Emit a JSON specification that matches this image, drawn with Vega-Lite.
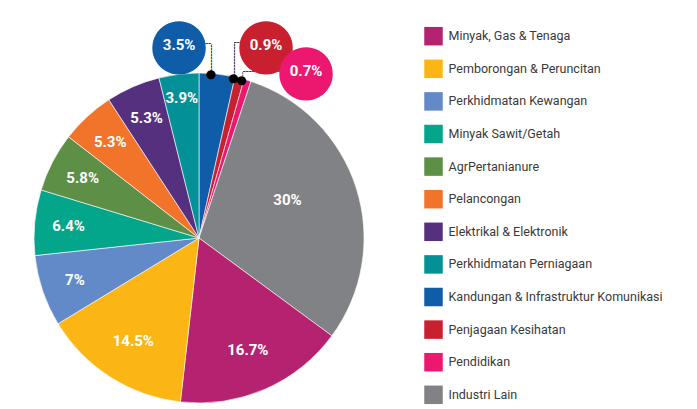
{
  "$schema": "https://vega.github.io/schema/vega-lite/v6.json",
  "width": 398,
  "height": 342,
  "autosize": {"type": "none"},
  "padding": {"left": 0, "top": 67, "right": 299, "bottom": 0},
  "background": "white",
  "config": {"view": {"stroke": null}, "text": {"font": "Roboto"}},
  "data": {
    "values": [
      {"cat": "Kandungan & Infrastruktur Komunikasi", "pct": 3.5, "label": "3.5%", "ord": 1},
      {"cat": "Penjagaan Kesihatan", "pct": 0.9, "label": "0.9%", "ord": 2},
      {"cat": "Pendidikan", "pct": 0.7, "label": "0.7%", "ord": 3},
      {"cat": "Industri Lain", "pct": 30, "label": "30%", "ord": 4},
      {"cat": "Minyak, Gas & Tenaga", "pct": 16.7, "label": "16.7%", "ord": 5},
      {"cat": "Pemborongan & Peruncitan", "pct": 14.5, "label": "14.5%", "ord": 6},
      {"cat": "Perkhidmatan Kewangan", "pct": 7, "label": "7%", "ord": 7},
      {"cat": "Minyak Sawit/Getah", "pct": 6.4, "label": "6.4%", "ord": 8},
      {"cat": "AgrPertanianure", "pct": 5.8, "label": "5.8%", "ord": 9},
      {"cat": "Pelancongan", "pct": 5.3, "label": "5.3%", "ord": 10},
      {"cat": "Elektrikal & Elektronik", "pct": 5.3, "label": "5.3%", "ord": 11},
      {"cat": "Perkhidmatan Perniagaan", "pct": 3.9, "label": "3.9%", "ord": 12}
    ]
  },
  "encoding": {
    "theta": {"field": "pct", "type": "quantitative", "stack": true},
    "order": {"field": "ord", "type": "quantitative", "sort": "ascending"}
  },
  "layer": [
    {
      "mark": {"type": "arc", "outerRadius": 165, "stroke": "white", "strokeWidth": 0.6},
      "encoding": {
        "color": {
          "field": "cat",
          "type": "nominal",
          "scale": {
            "domain": ["Minyak, Gas & Tenaga", "Pemborongan & Peruncitan", "Perkhidmatan Kewangan", "Minyak Sawit/Getah", "AgrPertanianure", "Pelancongan", "Elektrikal & Elektronik", "Perkhidmatan Perniagaan", "Kandungan & Infrastruktur Komunikasi", "Penjagaan Kesihatan", "Pendidikan", "Industri Lain"],
            "range": ["#B5226F", "#FBB616", "#628AC8", "#03A68A", "#5E8F46", "#F1742A", "#55307F", "#039097", "#0F5CA9", "#C8202E", "#EC1870", "#818285"]
          },
          "legend": {
            "title": null,
            "orient": "none",
            "legendX": 424,
            "legendY": -40.3,
            "padding": 0,
            "symbolType": "square",
            "symbolSize": 342,
            "symbolStrokeWidth": 0,
            "symbolOpacity": 1,
            "labelFont": "Roboto",
            "labelFontSize": 12.5,
            "labelColor": "#3a3a3a",
            "labelOffset": 5.5,
            "labelLimit": 400,
            "rowPadding": 13.6
          }
        }
      }
    },
    {
      "mark": {"type": "text", "radius": 122, "fill": "white", "fontSize": 15, "fontWeight": "bold", "baseline": "middle"},
      "encoding": {"text": {"condition": {"test": "datum.ord === 5 || datum.ord === 6", "field": "label", "type": "nominal"}, "value": ""}}
    },
    {
      "mark": {"type": "text", "radius": 131, "fill": "white", "fontSize": 15, "fontWeight": "bold", "baseline": "middle"},
      "encoding": {"text": {"condition": {"test": "datum.ord >= 7 && datum.ord <= 11", "field": "label", "type": "nominal"}, "value": ""}}
    },
    {
      "mark": {"type": "text", "radius": 141, "fill": "white", "fontSize": 15, "fontWeight": "bold", "baseline": "middle"},
      "encoding": {"text": {"condition": {"test": "datum.ord === 12", "field": "label", "type": "nominal"}, "value": ""}}
    },
    {
      "mark": {"type": "text", "radius": 96, "dx": -3, "dy": -9, "fill": "white", "fontSize": 15, "fontWeight": "bold", "baseline": "middle"},
      "encoding": {"text": {"condition": {"test": "datum.ord === 4", "field": "label", "type": "nominal"}, "value": ""}}
    },
    {
      "mark": {"type": "text", "radius": 165, "angle": 90, "dx": -15, "dy": 6, "font": "DejaVu Sans Mono", "fontSize": 10, "fontWeight": "bold", "fill": "#000", "baseline": "middle"},
      "encoding": {"text": {"condition": {"test": "datum.ord === 1", "value": "╌╌╌╌╌"}, "value": ""}}
    },
    {
      "mark": {"type": "text", "radius": 165, "angle": 90, "dx": -17.1, "dy": 6, "font": "DejaVu Sans Mono", "fontSize": 10, "fontWeight": "bold", "fill": "#000", "baseline": "middle"},
      "encoding": {"text": {"condition": {"test": "datum.ord === 2", "value": "╌╌╌╌╌╌"}, "value": ""}}
    },
    {
      "mark": {"type": "text", "radius": 165, "angle": 90, "dx": -3.5, "dy": 6, "font": "DejaVu Sans Mono", "fontSize": 8, "fontWeight": "bold", "fill": "#000", "baseline": "middle"},
      "encoding": {"text": {"condition": {"test": "datum.ord === 3", "value": "╌╌"}, "value": ""}}
    },
    {
      "mark": {"type": "text", "radius": 165, "dx": -12.1, "dy": -30, "font": "DejaVu Sans Mono", "fontSize": 10, "fontWeight": "bold", "fill": "#000", "baseline": "middle"},
      "encoding": {"text": {"condition": {"test": "datum.ord === 1", "value": "╌╌"}, "value": ""}}
    },
    {
      "mark": {"type": "text", "radius": 165, "dx": 3, "dy": -35.1, "font": "DejaVu Sans Mono", "fontSize": 10, "fontWeight": "bold", "fill": "#000", "baseline": "middle"},
      "encoding": {"text": {"condition": {"test": "datum.ord === 2", "value": "╌╌╌"}, "value": ""}}
    },
    {
      "mark": {"type": "text", "radius": 165, "dx": 16, "dy": -8.3, "font": "DejaVu Sans Mono", "fontSize": 10, "fontWeight": "bold", "fill": "#000", "baseline": "middle"},
      "encoding": {"text": {"condition": {"test": "datum.ord === 3", "value": "╌╌╌╌╌╌╌"}, "value": ""}}
    },
    {
      "mark": {"type": "text", "radius": 165, "dx": -6, "dy": 0, "font": "DejaVu Sans", "fontSize": 12, "fill": "#000", "baseline": "middle"},
      "encoding": {"text": {"condition": {"test": "datum.ord <= 3", "value": "●"}, "value": ""}}
    },
    {
      "mark": {"type": "text", "radius": 165, "dx": -38, "dy": -29, "font": "DejaVu Sans", "fontSize": 70, "fill": "#0F5CA9", "baseline": "middle"},
      "encoding": {"text": {"condition": {"test": "datum.ord === 1", "value": "●"}, "value": ""}}
    },
    {
      "mark": {"type": "text", "radius": 165, "dx": 26.5, "dy": -33, "font": "DejaVu Sans", "fontSize": 70, "fill": "#C8202E", "baseline": "middle"},
      "encoding": {"text": {"condition": {"test": "datum.ord === 2", "value": "●"}, "value": ""}}
    },
    {
      "mark": {"type": "text", "radius": 165, "dx": 58.5, "dy": -8.8, "font": "DejaVu Sans", "fontSize": 70, "fill": "#EC1870", "baseline": "middle"},
      "encoding": {"text": {"condition": {"test": "datum.ord === 3", "value": "●"}, "value": ""}}
    },
    {
      "mark": {"type": "text", "radius": 165, "dx": -38, "dy": -29, "fill": "white", "fontSize": 15, "fontWeight": "bold", "baseline": "middle"},
      "encoding": {"text": {"condition": {"test": "datum.ord === 1", "field": "label", "type": "nominal"}, "value": ""}}
    },
    {
      "mark": {"type": "text", "radius": 165, "dx": 26.5, "dy": -33, "fill": "white", "fontSize": 15, "fontWeight": "bold", "baseline": "middle"},
      "encoding": {"text": {"condition": {"test": "datum.ord === 2", "field": "label", "type": "nominal"}, "value": ""}}
    },
    {
      "mark": {"type": "text", "radius": 165, "dx": 58.5, "dy": -8.8, "fill": "white", "fontSize": 15, "fontWeight": "bold", "baseline": "middle"},
      "encoding": {"text": {"condition": {"test": "datum.ord === 3", "field": "label", "type": "nominal"}, "value": ""}}
    }
  ]
}
